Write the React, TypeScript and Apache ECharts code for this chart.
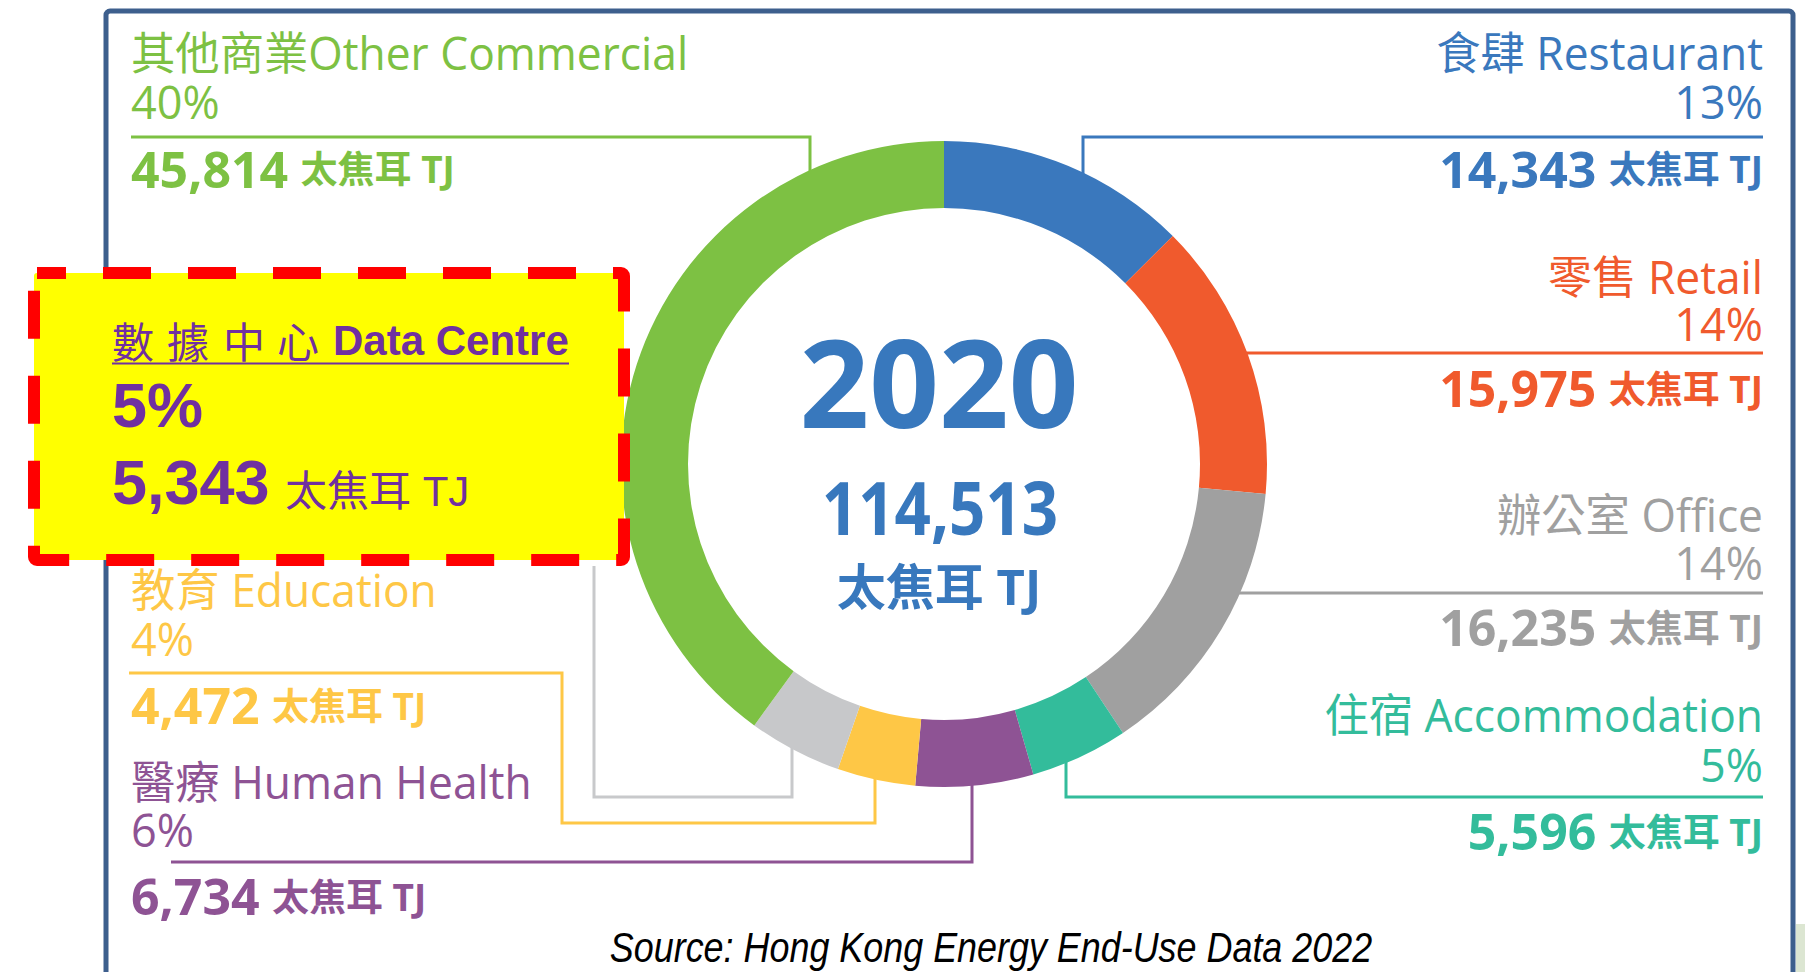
import React, { useEffect, useRef } from 'react';
import * as echarts from 'echarts';

// ---- data ----
const categories = ['食肆 Restaurant', '零售 Retail', '辦公室 Office', '住宿 Accommodation', '醫療 Human Health', '教育 Education', '數據中心 Data Centre', '其他商業Other Commercial'];
const values = [14343, 15975, 16235, 5596, 6734, 4472, 5343, 45814];
const valueLabels = ['14,343', '15,975', '16,235', '5,596', '6,734', '4,472', '5,343', '45,814'];
const percentLabels = ['13%', '14%', '14%', '5%', '6%', '4%', '5%', '40%'];
const centerYear = '2020';
const centerTotal = '114,513';
const unitLabel = '太焦耳 TJ';
const sourceText = 'Source: Hong Kong Energy End-Use Data 2022';

// ---- styles / layout ----
const colors = ['#3A78BD', '#F05A2D', '#A0A0A0', '#33BC9B', '#8E5394', '#FEC746', '#C7C8CA', '#7DC143'];
const FONT = "'Open Sans', 'Noto Sans CJK TC', sans-serif";
const BOXFONT = "'Liberation Sans', Arial, 'Noto Sans CJK TC', sans-serif";
const PURPLE = '#7030A0';
const RIGHT_X = 1763;
const LEFT_X = 131;

type Lay = { side: 'left' | 'right' | 'box'; title?: number; pct?: number; value?: number; line: number[][] };
const layout: Lay[] = [
  { side: 'right', title: 52, pct: 101, value: 168.5, line: [[1763, 137], [1083, 137], [1083, 200]] },
  { side: 'right', title: 276, pct: 323, value: 388, line: [[1763, 353], [1220, 353]] },
  { side: 'right', title: 514, pct: 562, value: 627, line: [[1763, 593], [1200, 593]] },
  { side: 'right', title: 714, pct: 764, value: 831, line: [[1763, 797], [1066, 797], [1066, 730]] },
  { side: 'left', title: 781, pct: 829, value: 896, line: [[171, 862], [972, 862], [972, 750]] },
  { side: 'left', title: 589, pct: 638, value: 705, line: [[129, 673], [562, 673], [562, 823], [875, 823], [875, 745]] },
  { side: 'box', line: [[594, 566], [594, 797], [792, 797], [792, 710]] },
  { side: 'left', title: 52, pct: 101, value: 168.5, line: [[131, 137], [810, 137], [810, 200]] },
];

function buildGraphic() {
  const els: any[] = [];
  // frame
  els.push({
    type: 'rect', z: 0, silent: true,
    shape: { x: 106, y: 11, width: 1687, height: 1100, r: 4 },
    style: { fill: 'none', stroke: '#3D5F8D', lineWidth: 5 },
  });
  els.push({
    type: 'rect', z: 0, silent: true,
    shape: { x: 1796, y: 924, width: 9, height: 48 },
    style: { fill: '#DCE6D2' },
  });
  // connectors
  layout.forEach((l, i) => {
    els.push({
      type: 'polyline', z: 1, silent: true,
      shape: { points: l.line },
      style: { fill: 'none', stroke: i === 6 ? '#C8C9CB' : colors[i], lineWidth: 3 },
    });
  });
  // labels
  layout.forEach((l, i) => {
    if (l.side === 'box') return;
    const x = l.side === 'right' ? RIGHT_X : LEFT_X;
    const align = l.side === 'right' ? 'right' : 'left';
    const c = colors[i];
    els.push({
      type: 'text', z: 10, silent: true, x, y: l.title, scaleX: 0.985,
      style: { text: categories[i], fill: c, fontFamily: FONT, fontSize: 45, lineHeight: 46, align, verticalAlign: 'middle' },
    });
    els.push({
      type: 'text', z: 10, silent: true, x, y: l.pct,
      style: { text: percentLabels[i], fill: c, fontFamily: FONT, fontSize: 45, lineHeight: 46, align, verticalAlign: 'middle' },
    });
    els.push({
      type: 'text', z: 10, silent: true, x, y: l.value,
      style: {
        text: `{v|${valueLabels[i]}} {u|${unitLabel}}`,
        fill: c, fontFamily: FONT, fontSize: 36, fontWeight: 'bold', align, verticalAlign: 'middle',
        rich: {
          v: { fontSize: 50, fontWeight: 'bold', fontFamily: FONT, fill: c, lineHeight: 56, verticalAlign: 'middle' },
          u: { fontSize: 37, fontWeight: 'bold', fontFamily: FONT, fill: c, lineHeight: 56, verticalAlign: 'middle', padding: [0, 0, 0, 3] },
        },
      },
    });
  });
  // Data centre highlight box
  els.push({
    type: 'rect', z: 8, silent: true,
    shape: { x: 34, y: 273, width: 590, height: 287, r: 3 },
    style: { fill: '#FFFF00', stroke: '#FF0000', lineWidth: 12, lineDash: [48, 37], lineDashOffset: 19 },
  });
  const dcName = categories[6].split(' ');
  const dcChars = dcName[0].split('');
  const charX = [112, 167, 223, 277];
  dcChars.forEach((ch, k) => {
    els.push({
      type: 'text', z: 10, silent: true, x: charX[k], y: 343,
      style: { text: ch, fill: PURPLE, fontFamily: BOXFONT, fontSize: 42, align: 'left', verticalAlign: 'middle' },
    });
  });
  els.push({
    type: 'text', z: 10, silent: true, x: 333, y: 340,
    style: { text: dcName.slice(1).join(' '), fill: PURPLE, fontFamily: BOXFONT, fontSize: 42, fontWeight: 'bold', align: 'left', verticalAlign: 'middle' },
  });
  els.push({
    type: 'line', z: 10, silent: true,
    shape: { x1: 112, y1: 363.5, x2: 569, y2: 363.5 },
    style: { stroke: PURPLE, lineWidth: 2 },
  });
  els.push({
    type: 'text', z: 10, silent: true, x: 112, y: 405,
    style: { text: percentLabels[6], fill: PURPLE, fontFamily: BOXFONT, fontSize: 63, fontWeight: 'bold', align: 'left', verticalAlign: 'middle' },
  });
  els.push({
    type: 'text', z: 10, silent: true, x: 112, y: 482,
    style: { text: valueLabels[6], fill: PURPLE, fontFamily: BOXFONT, fontSize: 63, fontWeight: 'bold', align: 'left', verticalAlign: 'middle' },
  });
  els.push({
    type: 'text', z: 10, silent: true, x: 285, y: 491,
    style: { text: unitLabel, fill: PURPLE, fontFamily: BOXFONT, fontSize: 42, align: 'left', verticalAlign: 'middle' },
  });
  // centre texts
  const CB = '#3878BD';
  els.push({
    type: 'text', z: 10, silent: true, x: 939, y: 381,
    style: { text: centerYear, fill: CB, fontFamily: FONT, fontSize: 122, fontWeight: 'bold', align: 'center', verticalAlign: 'middle' },
  });
  els.push({
    type: 'text', z: 10, silent: true, x: 940, y: 506, scaleX: 0.86,
    style: { text: centerTotal, fill: CB, fontFamily: FONT, fontSize: 74, fontWeight: 'bold', align: 'center', verticalAlign: 'middle' },
  });
  els.push({
    type: 'text', z: 10, silent: true, x: 939, y: 586,
    style: { text: unitLabel, fill: CB, fontFamily: FONT, fontSize: 49, fontWeight: 'bold', align: 'center', verticalAlign: 'middle' },
  });
  // source
  els.push({
    type: 'text', z: 10, silent: true, x: 991, y: 947, scaleX: 0.855,
    style: { text: sourceText, fill: '#000000', fontFamily: BOXFONT, fontSize: 42, fontStyle: 'italic', align: 'center', verticalAlign: 'middle' },
  });
  return els;
}

export default function App() {
  const ref = useRef<HTMLDivElement>(null);
  useEffect(() => {
    if (!ref.current) return;
    const chart = echarts.init(ref.current, undefined, { renderer: 'svg' });
    chart.setOption({
      animation: false,
      backgroundColor: '#FFFFFF',
      series: [
        {
          type: 'pie',
          center: [944, 464],
          radius: [256, 323],
          startAngle: 90,
          clockwise: true,
          silent: true,
          z: 5,
          label: { show: false },
          labelLine: { show: false },
          itemStyle: { borderWidth: 0 },
          emphasis: { disabled: true },
          data: categories.map((name, i) => ({ name, value: values[i], itemStyle: { color: colors[i] } })),
        },
      ],
      graphic: { elements: buildGraphic() },
    });
    return () => chart.dispose();
  }, []);
  return <div ref={ref} style={{ position: 'fixed', left: 0, top: 0, width: 1805, height: 972 }} />;
}
